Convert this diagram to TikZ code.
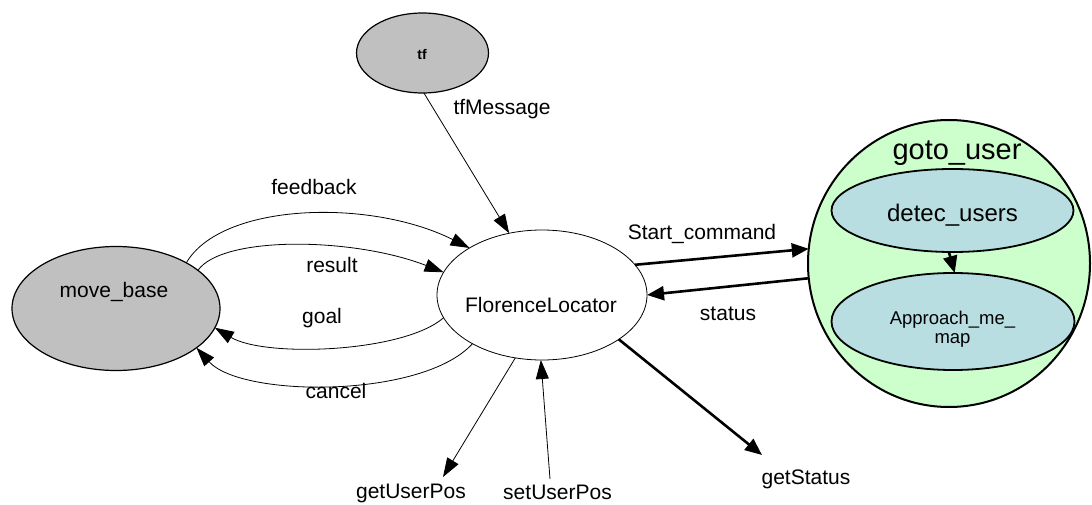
\documentclass[tikz,border=0pt]{standalone}
\usepackage{fontspec}
\setmainfont{Liberation Sans}
\usetikzlibrary{arrows.meta,shapes.geometric}

\definecolor{nodegray}{HTML}{C0C0C0}
\definecolor{clustergreen}{HTML}{CCFFCC}
\definecolor{statecyan}{HTML}{B8DEE2}

\tikzset{
  blob/.style={ellipse, draw, inner sep=0pt, outer sep=0pt},
  lbl/.style={font=\fontsize{21}{25}\selectfont, inner sep=0pt, anchor=base},
  thin edge/.style={line width=0.8pt, -{Triangle[length=19pt,width=13pt]}},
  bold edge/.style={line width=2.6pt, -{Triangle[length=17pt,width=14pt]}},
}

\begin{document}
\begin{tikzpicture}[x=1pt, y=-1pt]
\path[use as bounding box] (0,0) rectangle (1092,505);

% ---- nodes ----
\node[blob, fill=nodegray, line width=1.2pt, minimum width=132pt, minimum height=80pt] (tf) at (422.5,53) {};
\node[inner sep=0pt, anchor=base, font=\fontsize{14}{16}\selectfont\bfseries] (tf-t) at (422,60) {tf};

\node[blob, fill=nodegray, line width=1.2pt, minimum width=208pt, minimum height=124pt] (mb) at (116,308.5) {};
\node[lbl] (mb-t) at (114,297) {move\_base};

\node[blob, fill=white, line width=0.8pt, minimum width=210pt, minimum height=130pt] (fl) at (542,295) {};
\node[lbl] (fl-t) at (541,312) {FlorenceLocator};

% goto_user cluster with its two states
\node[blob, fill=clustergreen, line width=2pt, minimum width=282pt, minimum height=287pt] (goto) at (949,263.5) {};
\node[inner sep=0pt, anchor=base, font=\fontsize{29}{33}\selectfont] (goto-t) at (957,160) {goto\_user};

\node[blob, fill=statecyan, line width=1.8pt, minimum width=242pt, minimum height=83pt] (dt) at (952.5,210.5) {};
\node[inner sep=0pt, anchor=base, font=\fontsize{24}{28}\selectfont] (dt-t) at (952.5,222) {detec\_users};

\node[blob, fill=statecyan, line width=1.8pt, minimum width=243pt, minimum height=97pt] (ap) at (953,321.5) {};
\node[inner sep=0pt, align=center, font=\fontsize{18.5}{19}\selectfont] (ap-t) at (952.5,329.5) {Approach\_me\_\\map};

\draw[bold edge] (dt.265) -- (ap.88);

% ---- free ends of the service connectors ----
\coordinate (gup-end) at (443,477);
\coordinate (sup-start) at (550,479);
\coordinate (gst-end) at (762,455);

% ---- connectors ----
\draw[thin edge] (tf.-88) -- (fl.118);

\draw[thin edge] (mb.33) .. controls +(35,-60) and +(-100,-50) .. (fl.147);
\draw[thin edge] (mb.25) .. controls +(25,-35) and +(-90,-35) .. (fl.167);
\draw[thin edge] (fl.193) .. controls +(-40,35) and +(50,30) .. (mb.-11);
\draw[thin edge] (fl.215) .. controls +(-50,55) and +(45,50) .. (mb.-26);

\draw[bold edge] (fl.18) -- (goto.174);
\draw[bold edge] (goto.186) -- (fl.0);

\draw[thin edge] (fl.247.5) -- (gup-end);
\draw[thin edge] (sup-start) -- (fl.269);
\draw[bold edge] (fl.-30) -- (gst-end);

% ---- connector labels ----
\node[lbl] (l-tfmsg) at (502,115) {tfMessage};
\node[lbl] (l-feedback) at (314,195) {feedback};
\node[lbl] (l-result) at (332,272) {result};
\node[lbl] (l-goal) at (322,323) {goal};
\node[lbl] (l-cancel) at (336,398) {cancel};
\node[lbl] (l-start) at (702,240) {Start\_command};
\node[lbl] (l-status) at (728,320) {status};
\node[lbl] (l-gup) at (411,498) {getUserPos};
\node[lbl] (l-sup) at (557.5,499) {setUserPos};
\node[lbl] (l-gst) at (806,484) {getStatus};
\end{tikzpicture}
\end{document}
